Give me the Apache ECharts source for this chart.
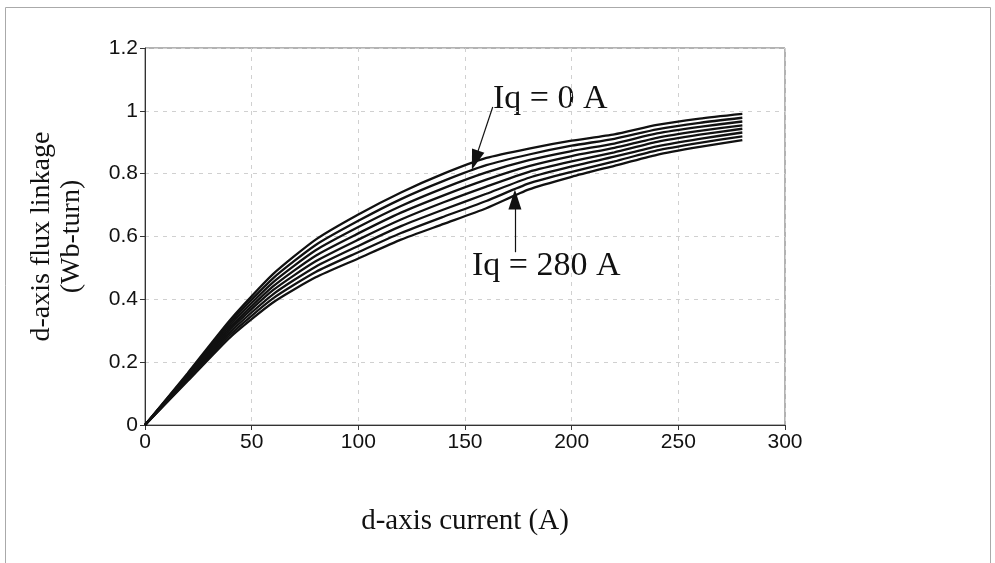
<!DOCTYPE html>
<html>
<head>
<meta charset="utf-8">
<script src="https://cdn.jsdelivr.net/npm/echarts@6/dist/echarts.min.js"></script>
<style>
  html, body { margin: 0; padding: 0; background: #fff; }
  #chart { width: 995px; height: 563px; }
</style>
</head>
<body>
<div id="chart"></div>
<script>
// d-axis current samples (A)
const currentA = [0, 20, 40, 60, 80, 100, 120, 140, 160, 180, 200, 220, 240, 260, 280];

// d-axis flux linkage (Wb-turn) for each q-axis current
const iq0   = [0, 0.165, 0.335, 0.480, 0.590, 0.670, 0.740, 0.800, 0.850, 0.880, 0.905, 0.925, 0.955, 0.975, 0.990];
const iq40  = [0, 0.161, 0.327, 0.467, 0.573, 0.650, 0.719, 0.777, 0.827, 0.861, 0.889, 0.911, 0.941, 0.962, 0.978];
const iq80  = [0, 0.158, 0.319, 0.454, 0.556, 0.630, 0.697, 0.754, 0.804, 0.843, 0.872, 0.896, 0.928, 0.949, 0.966];
const iq120 = [0, 0.154, 0.311, 0.441, 0.539, 0.610, 0.676, 0.731, 0.781, 0.824, 0.856, 0.882, 0.914, 0.936, 0.954];
const iq160 = [0, 0.151, 0.304, 0.429, 0.521, 0.590, 0.654, 0.709, 0.759, 0.806, 0.839, 0.868, 0.901, 0.924, 0.943];
const iq200 = [0, 0.147, 0.296, 0.416, 0.504, 0.570, 0.633, 0.686, 0.736, 0.787, 0.823, 0.854, 0.887, 0.911, 0.931];
const iq240 = [0, 0.144, 0.288, 0.403, 0.487, 0.550, 0.611, 0.663, 0.713, 0.769, 0.806, 0.839, 0.874, 0.898, 0.919];
const iq280 = [0, 0.140, 0.280, 0.390, 0.470, 0.530, 0.590, 0.640, 0.690, 0.750, 0.790, 0.825, 0.860, 0.885, 0.907];

const curves = [
  ['Iq = 0 A', iq0], ['Iq = 40 A', iq40], ['Iq = 80 A', iq80], ['Iq = 120 A', iq120],
  ['Iq = 160 A', iq160], ['Iq = 200 A', iq200], ['Iq = 240 A', iq240], ['Iq = 280 A', iq280]
];

// Callout arrows: [start, tip] in (current, flux) units
const arrowTop = [[163, 1.012], [154.7, 0.843]];
const arrowBottom = [[173.4, 0.55], [173.4, 0.718]];

const serif = '"Liberation Serif", "Times New Roman", serif';
const sans = '"Liberation Sans", Arial, sans-serif';

const arrowLine = (pts) => ({
  silent: true,
  symbol: ['none', 'triangle'],
  symbolSize: [13, 20],
  lineStyle: { color: '#111', width: 1.2, type: 'solid' },
  label: { show: false },
  data: [[{ coord: pts[0] }, { coord: pts[1] }]]
});

const series = curves.map(([name, vals], i) => {
  const s = {
    name,
    type: 'line',
    data: currentA.map((x, k) => [x, vals[k]]),
    showSymbol: false,
    smooth: 0.2,
    lineStyle: { color: '#111', width: 2.3 },
    z: 3
  };
  if (i === 0) s.markLine = arrowLine(arrowTop);
  if (i === curves.length - 1) s.markLine = arrowLine(arrowBottom);
  return s;
});

const chart = echarts.init(document.getElementById('chart'), null, { renderer: 'canvas' });
chart.setOption({
  animation: false,
  backgroundColor: '#fff',
  grid: {
    left: 145, right: 210, top: 48, bottom: 138,
    show: true, borderColor: '#666', borderWidth: 1
  },
  xAxis: {
    type: 'value', min: 0, max: 300, interval: 50,
    name: 'd-axis current (A)', nameLocation: 'middle', nameGap: 82,
    nameTextStyle: { fontFamily: serif, fontSize: 29, color: '#111' },
    axisLine: { show: true, lineStyle: { color: '#333', width: 1 } },
    axisTick: { show: true, inside: false, length: 5, lineStyle: { color: '#333' } },
    axisLabel: { fontFamily: sans, fontSize: 21, color: '#111', margin: 7 },
    splitLine: { show: true, lineStyle: { color: '#d0d0d0', type: [4, 5] } }
  },
  yAxis: {
    type: 'value', min: 0, max: 1.2, interval: 0.2,
    name: 'd-axis flux linkage\n(Wb-turn)', nameLocation: 'middle', nameGap: 58, nameRotate: 90,
    nameTextStyle: { fontFamily: serif, fontSize: 28, color: '#111', lineHeight: 30 },
    axisLine: { show: true, lineStyle: { color: '#333', width: 1 } },
    axisTick: { show: true, inside: false, length: 5, lineStyle: { color: '#333' } },
    axisLabel: { fontFamily: sans, fontSize: 21, color: '#111', margin: 7 },
    splitLine: { show: true, lineStyle: { color: '#d0d0d0', type: [4, 5] } }
  },
  graphic: [
    {
      type: 'rect', silent: true, z: -1,
      shape: { x: 5.5, y: 7.5, width: 985, height: 600 },
      style: { fill: 'none', stroke: '#aaa', lineWidth: 1 }
    },
    {
      type: 'text', left: 493, top: 82,
      style: { text: 'Iq = 0 A', font: '34px ' + serif, fill: '#111' }
    },
    {
      type: 'text', left: 472, top: 249,
      style: { text: 'Iq = 280 A', font: '34px ' + serif, fill: '#111' }
    }
  ],
  series
});
</script>
</body>
</html>
